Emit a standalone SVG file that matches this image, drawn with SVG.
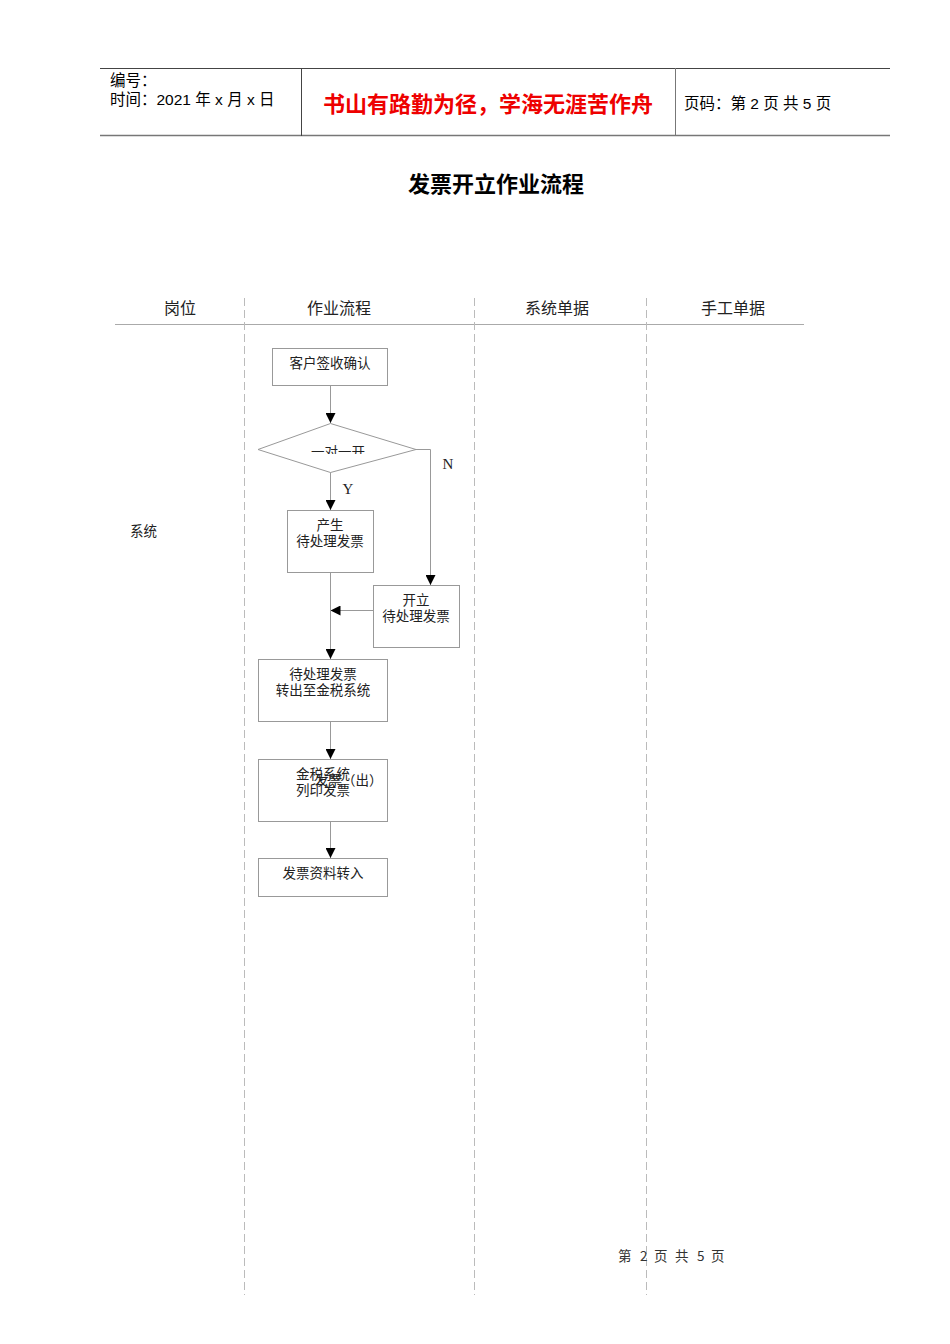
<svg xmlns="http://www.w3.org/2000/svg" width="950" height="1344" viewBox="0 0 950 1344">
<defs>
<style>
.hd{font-family:"Liberation Sans","Noto Sans CJK SC",sans-serif;font-size:15.5px;fill:#000}
.ser{font-family:"Liberation Serif","Noto Sans CJK SC",serif;fill:#222}
.col{font-size:16px}
.bx{font-size:13.5px}
.box{fill:#fff;stroke:#999;stroke-width:1}
.ln{fill:none;stroke:#999;stroke-width:1}
.dash{stroke:#bbb;stroke-width:1;stroke-dasharray:8,4}
.ft{font-family:"Noto Sans CJK SC",sans-serif;font-size:13.5px;fill:#333}
</style>
<marker id="ah" viewBox="0 0 10 10" refX="10" refY="5" markerWidth="10" markerHeight="10" markerUnits="userSpaceOnUse" orient="auto">
<path d="M0,0 L10,5 L0,10 z" fill="#000"/>
</marker>
<clipPath id="dclip"><rect x="280" y="440" width="100" height="14"/></clipPath>
</defs>
<rect width="950" height="1344" fill="#fff"/>

<g id="header">
<line x1="100" y1="68.5" x2="890" y2="68.5" stroke="#444" stroke-width="1"/>
<line x1="100" y1="135.5" x2="890" y2="135.5" stroke="#777" stroke-width="1.5"/>
<line x1="301.5" y1="68" x2="301.5" y2="136" stroke="#444"/>
<line x1="675.5" y1="68" x2="675.5" y2="136" stroke="#777"/>
<text class="hd" x="110" y="86">编号：</text>
<text class="hd" x="110" y="105">时间：2021 年 x 月 x 日</text>
<text x="488" y="112" text-anchor="middle" font-family="'Noto Sans CJK SC',sans-serif" font-size="22" font-weight="bold" fill="#e00">书山有路勤为径，学海无涯苦作舟</text>
<text class="hd" x="684" y="109">页码：第 2 页  共 5 页</text>
</g>

<text x="496" y="192" text-anchor="middle" font-family="'Noto Sans CJK SC',sans-serif" font-size="22" font-weight="bold" fill="#000">发票开立作业流程</text>

<g id="columns">
<text class="ser col" x="180" y="314" text-anchor="middle">岗位</text>
<text class="ser col" x="339" y="314" text-anchor="middle">作业流程</text>
<text class="ser col" x="557" y="314" text-anchor="middle">系统单据</text>
<text class="ser col" x="733" y="314" text-anchor="middle">手工单据</text>
<line x1="115" y1="324.5" x2="804" y2="324.5" stroke="#aaa" stroke-width="1"/>
<line class="dash" x1="244.5" y1="298" x2="244.5" y2="1295"/>
<line class="dash" x1="474.5" y1="298" x2="474.5" y2="1295"/>
<line class="dash" x1="646.5" y1="298" x2="646.5" y2="1295"/>
<text class="ser" x="130" y="536" font-size="13.5">系统</text>
</g>

<g id="connectors">
<line class="ln" x1="330.5" y1="385" x2="330.5" y2="423" marker-end="url(#ah)"/>
<polyline class="ln" points="416,449.5 430.5,449.5 430.5,585" marker-end="url(#ah)"/>
<line class="ln" x1="330.5" y1="472" x2="330.5" y2="510" marker-end="url(#ah)"/>
<line class="ln" x1="330.5" y1="572" x2="330.5" y2="659" marker-end="url(#ah)"/>
<line class="ln" x1="373" y1="610.5" x2="330.5" y2="610.5" marker-end="url(#ah)"/>
<line class="ln" x1="330.5" y1="721" x2="330.5" y2="759" marker-end="url(#ah)"/>
<line class="ln" x1="330.5" y1="821" x2="330.5" y2="858" marker-end="url(#ah)"/>
<text class="ser" x="448" y="469" font-size="15" text-anchor="middle">N</text>
<text class="ser" x="348" y="494" font-size="15" text-anchor="middle">Y</text>
</g>

<g id="n1">
<rect class="box" x="272.5" y="348.5" width="115" height="37"/>
<text class="ser bx" x="330" y="368" text-anchor="middle">客户签收确认</text>
</g>
<g id="n2">
<polygon class="box" points="258,449.5 330.5,423.5 416,449.5 330.5,472.5"/>
<text class="ser bx" x="338" y="457" text-anchor="middle" clip-path="url(#dclip)">一对一开</text>
</g>
<g id="n3">
<rect class="box" x="287.5" y="510.5" width="86" height="62"/>
<text class="ser bx" x="330" y="530" text-anchor="middle">产生</text>
<text class="ser bx" x="330" y="546" text-anchor="middle">待处理发票</text>
</g>
<g id="n4">
<rect class="box" x="373.5" y="585.5" width="86" height="62"/>
<text class="ser bx" x="416" y="605" text-anchor="middle">开立</text>
<text class="ser bx" x="416" y="621" text-anchor="middle">待处理发票</text>
</g>
<g id="n5">
<rect class="box" x="258.5" y="659.5" width="129" height="62"/>
<text class="ser bx" x="323" y="679" text-anchor="middle">待处理发票</text>
<text class="ser bx" x="323" y="695" text-anchor="middle">转出至金税系统</text>
</g>
<g id="n6">
<rect class="box" x="258.5" y="759.5" width="129" height="62"/>
<text class="ser bx" x="323" y="779" text-anchor="middle">金税系统</text>
<text class="ser bx" x="323" y="795" text-anchor="middle">列印发票</text>
<text class="ser bx" x="315" y="785">发票（出）</text>
</g>
<g id="n7">
<rect class="box" x="258.5" y="858.5" width="129" height="38"/>
<text class="ser bx" x="323" y="878" text-anchor="middle">发票资料转入</text>
</g>

<g id="footer">
<text class="ft" x="618" y="1261">第</text>
<text class="ft" x="640" y="1261">2</text>
<text class="ft" x="654" y="1261">页</text>
<text class="ft" x="675" y="1261">共</text>
<text class="ft" x="697" y="1261">5</text>
<text class="ft" x="711" y="1261">页</text>
</g>
</svg>
